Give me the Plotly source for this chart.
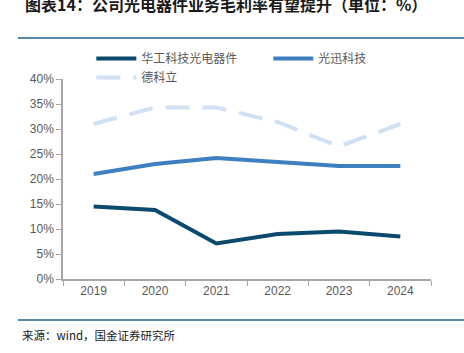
import plotly.graph_objects as go

years = ["2019", "2020", "2021", "2022", "2023", "2024"]
huagong = [14.5, 13.8, 7.1, 9.0, 9.5, 8.5]
guangxun = [21.0, 23.0, 24.2, 23.5, 22.6, 22.6]
dekeli = [31.0, 34.3, 34.3, 31.4, 26.5, 31.0]
names = ["华工科技光电器件", "光迅科技", "德科立"]
yticks = [0, 5, 10, 15, 20, 25, 30, 35, 40]

FONT = "Liberation Sans, Arial, Noto Sans CJK SC, sans-serif"
GRAY = "#595959"

fig = go.Figure()
fig.add_trace(go.Scatter(x=years, y=huagong, name=names[0], mode="lines",
                         line=dict(color="#0b4a6f", width=4)))
fig.add_trace(go.Scatter(x=years, y=guangxun, name=names[1], mode="lines",
                         line=dict(color="#3e7fc1", width=4)))
fig.add_trace(go.Scatter(x=years, y=dekeli, name=names[2], mode="lines",
                         line=dict(color="#cfe1f2", width=4, dash="24px,13px")))

fig.update_layout(
    width=464, height=353,
    margin=dict(l=63, r=33, t=79, b=74, autoexpand=False),
    paper_bgcolor="white", plot_bgcolor="white",
    font=dict(family=FONT, color=GRAY, size=12),
    showlegend=True,
    legend=dict(orientation="h", x=0.077, y=1.175, xanchor="left", yanchor="top",
                entrywidth=122, entrywidthmode="pixels",
                font=dict(size=12, color=GRAY, family="Noto Sans CJK SC, sans-serif"),
                tracegroupgap=0, itemwidth=40, bgcolor="rgba(0,0,0,0)"),
    xaxis=dict(type="category", range=[-0.5, 5.5], showline=True, linecolor="#a6a6a6",
               linewidth=1.5, ticks="outside", ticklen=5, tickcolor="#a6a6a6",
               tickson="boundaries", showgrid=False, zeroline=False,
               tickfont=dict(size=12, color=GRAY)),
    yaxis=dict(range=[0, 40], tickvals=yticks, ticktext=[f"{v}%" for v in yticks],
               showline=True, linecolor="#a6a6a6", linewidth=1.5, ticks="outside",
               ticklen=5, tickcolor="#a6a6a6", showgrid=False, zeroline=False,
               tickfont=dict(size=12, color=GRAY)),
)

# header / footer rules
for yv in [1.205, -0.205]:
    fig.add_shape(type="line", xref="paper", yref="paper", x0=-0.1223, x1=1.09,
                  y0=yv, y1=yv, line=dict(color="#1f5f8f", width=1.5))

fig.add_annotation(xref="paper", yref="paper", x=-0.11, y=1.375, xanchor="left",
                   yanchor="middle", showarrow=False,
                   text="<b>图表14：公司光电器件业务毛利率有望提升（单位：%）</b>",
                   font=dict(size=16, color="#1a1a1a", family="Noto Sans CJK SC, sans-serif"))
fig.add_annotation(xref="paper", yref="paper", x=-0.117, y=-0.28, xanchor="left",
                   yanchor="middle", showarrow=False,
                   text="来源：wind，国金证券研究所",
                   font=dict(size=11.5, color="#1a1a1a", family="Noto Sans CJK SC, sans-serif"))

fig.write_html("out.html")
